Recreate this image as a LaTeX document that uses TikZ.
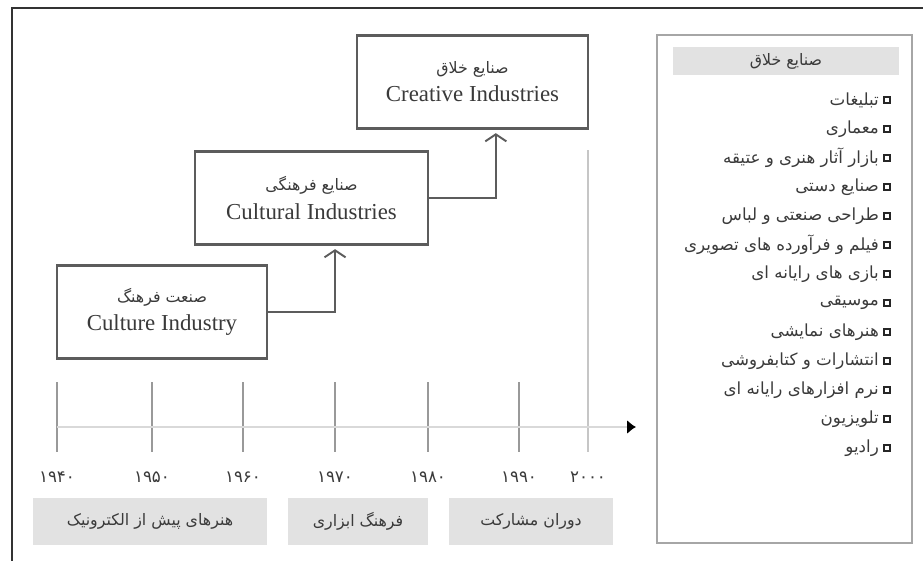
\documentclass[tikz,border=0pt]{standalone}
\usepackage{fontspec}
\setmainfont{Liberation Serif}
\newfontfamily\fafont[Script=Arabic]{DejaVu Sans}
\TeXXeTstate=1
\usetikzlibrary{arrows.meta,calc,positioning}
\newcommand{\fatxt}[1]{{\fafont\beginR #1\endR}}
\definecolor{txtgray}{HTML}{3A3A3A}
\definecolor{boxgray}{HTML}{5C5C5C}
\definecolor{fillgray}{HTML}{E2E2E2}
\tikzset{%
	era/.style    = {draw=boxgray, line width=1.3pt, fill=white, minimum height=1.86cm, text=txtgray, align=center, font=\fontsize{13}{16}\selectfont}, % industry box
	period/.style = {fill=fillgray, minimum height=0.94cm, text=txtgray, font=\fontsize{9}{11}\selectfont}, % era band
	year/.style   = {text=txtgray, font=\fafont\fontsize{9.5}{11}\selectfont},
	tick/.style   = {draw=gray!80, line width=0.9pt},
	conn/.style   = {draw=boxgray, line width=1.1pt, -{Straight Barb[length=4pt,width=12pt]}, shorten >=2pt},
	item/.style   = {anchor=east, text=txtgray, inner sep=1pt, font=\fontsize{9.5}{11}\selectfont},
	bul/.style    = {draw=black!85, line width=1.2pt, fill=white, minimum size=0.13cm, inner sep=0pt},
}

\begin{document}
\begin{tikzpicture}[x=0.02cm,y=-0.02cm]
	\useasboundingbox (0,0) rectangle (923,561);
	\draw[black!80, line width=1.2pt] (923,8) -- (12,8) -- (12,561);
	
	% industry boxes
	\node [era, minimum width=4.2cm] (culture) at (162,312) {{\fontsize{9}{11}\selectfont\fatxt{صنعت فرهنگ}}\\ Culture Industry};
	\node [era, minimum width=4.66cm] (cultural) at (311.5,198) {{\fontsize{9}{11}\selectfont\fatxt{صنایع فرهنگی}}\\ Cultural Industries};
	\node [era, minimum width=4.62cm] (creative) at (472.5,82) {{\fontsize{9}{11}\selectfont\fatxt{صنایع خلاق}}\\ Creative Industries};
	
	\draw[conn] (culture.east) -| ($(cultural.south west)!0.6!(cultural.south east)$);
	\draw[conn] (cultural.east) -| ($(creative.south west)!0.6!(creative.south east)$);
	
	% time axis
	\coordinate (axs) at (57,427);
	\coordinate (axe) at (636,427);
	\foreach \yr/\x [count=\i] in {۱۹۴۰/57, ۱۹۵۰/152, ۱۹۶۰/243, ۱۹۷۰/335, ۱۹۸۰/428, ۱۹۹۰/519} {
		\draw[tick] (\x,382) -- (\x,452);
		\node [year] (y\i) at (\x,477) {\yr};
	}
	\draw[draw=gray!45, line width=1pt] (588,150) -- (588,452);
	\node [year] (y7) at (588,477) {۲۰۰۰};
	\draw[draw=gray!30, line width=1.6pt, -{Latex[length=5pt,width=8pt,black]}] (axs) -- (axe);
	
	% eras
	\node [period, minimum width=4.68cm] (pre) at (150,521.5) {\fatxt{هنرهای پیش از الکترونیک}};
	\node [period, minimum width=2.8cm] (tool) at (358,521.5) {\fatxt{فرهنگ ابزاری}};
	\node [period, minimum width=3.28cm] (part) at (531,521.5) {\fatxt{دوران مشارکت}};
	
	% list of creative industries
	\node [draw=gray!70, line width=1.3pt, minimum width=5.1cm, minimum height=10.16cm] (panel) at (784.5,289) {};
	\node [fill=fillgray, minimum width=4.52cm, minimum height=0.56cm, text=txtgray, font=\fontsize{9}{11}\selectfont] (head) at (786,61) {\fatxt{صنایع خلاق}};
	\foreach \t [count=\i] in {تبلیغات, معماری, بازار آثار هنری و عتیقه, صنایع دستی, طراحی صنعتی و لباس, فیلم و فرآورده های تصویری, بازی های رایانه ای, موسیقی, هنرهای نمایشی, انتشارات و کتابفروشی, نرم افزارهای رایانه ای, تلویزیون, رادیو} {
		\node [bul] (b\i) at (887,{100+(\i-1)*29}) {};
		\node [item, left=1pt of b\i] (it\i) {\fatxt{\t}};
	}
\end{tikzpicture}
\end{document}
